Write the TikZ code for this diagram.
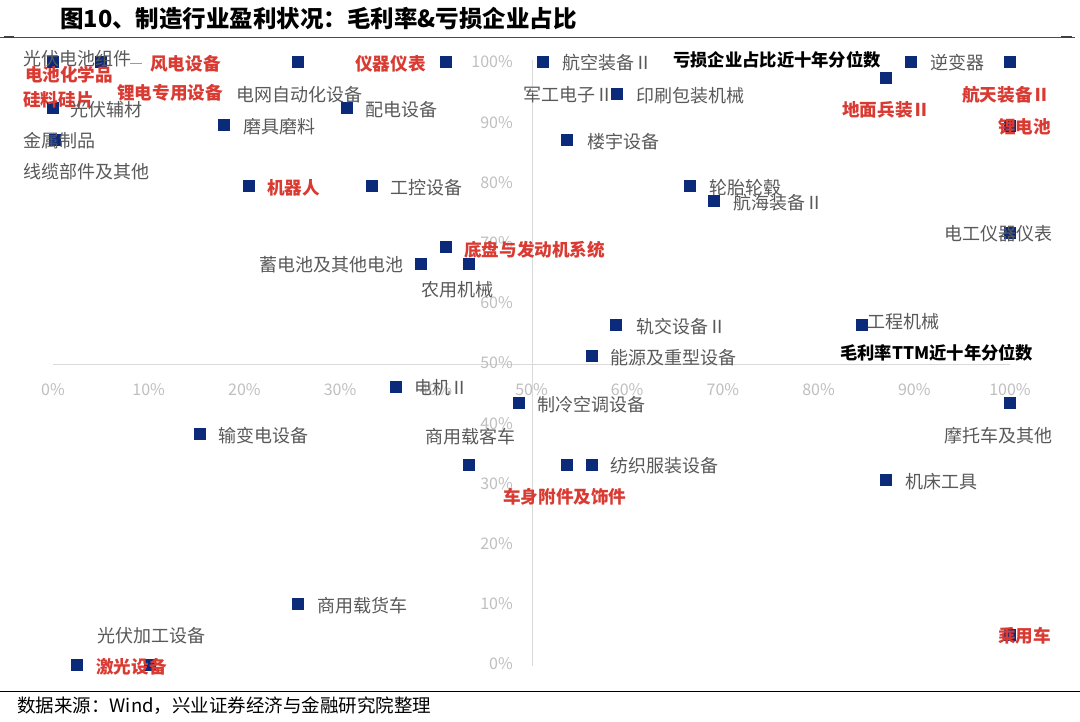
\documentclass[tikz,border=0pt]{standalone}
\usepackage{fontspec}
\setmainfont{Noto Sans CJK SC}
\definecolor{mk}{HTML}{0B2A7A}
\definecolor{rd}{HTML}{D93A32}
\definecolor{gt}{HTML}{595959}
\definecolor{ax}{HTML}{BFBFBF}
\definecolor{al}{HTML}{D9D9D9}
\begin{document}
\begin{tikzpicture}[x=1pt,y=-1pt,
  sq/.style={fill=mk,minimum size=12pt,inner sep=0pt,draw=none},
  gl/.style={anchor=west,inner sep=0pt,text=gt,font=\fontsize{18}{18}\selectfont},
  rl/.style={anchor=west,inner sep=0pt,text=rd,font=\fontsize{17.6}{18}\selectfont\bfseries},
  bl/.style={anchor=west,inner sep=0pt,text=black,font=\fontsize{17.3}{17}\selectfont\bfseries},
  yl/.style={anchor=east,inner sep=0pt,text=ax,font=\fontsize{16}{16}\selectfont},
  xl/.style={inner sep=0pt,text=ax,font=\fontsize{16}{16}\selectfont}]
\useasboundingbox (0,0) rectangle (1080,721);
\fill[white] (0,0) rectangle (1080,721);
% title
\node[anchor=west,inner sep=0pt,font=\fontsize{23.5}{24}\selectfont\bfseries] (title) at (60,19) {图10、制造行业盈利状况：毛利率\&亏损企业占比};
\coordinate (tl0) at (0,37); \coordinate (tl1) at (1075,37);
\draw[line width=1pt,black!70] (tl0) -- (tl1);
\draw[line width=2pt,black!75] (4,37) -- (14,37);
\draw[line width=2pt,black!75] (1061,37) -- (1072,37);
% axes
\coordinate (xa0) at (53,364); \coordinate (xa1) at (1010,364);
\coordinate (ya0) at (532,60); \coordinate (ya1) at (532,666);
\draw[al,line width=1pt] (xa0) -- (xa1);
\draw[al,line width=1pt] (ya0) -- (ya1);
\foreach \v [count=\i from 0] in {0,10,...,100} {
  \node[xl] (xt\i) at ({53+9.57*\v},390) {\v\%};
  \node[yl] (yt\i) at (513,{664-6.02*\v}) {\v\%};
}
% markers
\foreach \x/\y [count=\i] in {53/62,101/62,298/62,446/62,543/62,911/62,1010/62,886/78,
  53/108,347/108,224/125,55/140,249/186,372/186,617/94,1010/126,567/140,690/186,714/201,
  446/247,421/264,469/264,1010/233,616/325,862/325,592/356,396/387,519/403,1010/403,
  200/434,469/465,567/465,592/465,886/480,298/604,1010/635,77/665,150/665}
  \node[sq] (m\i) at (\x,\y) {};
% labels
\node[gl] (l1) at (23,59) {光伏电池组件};
\coordinate (ld0) at (130,63); \coordinate (ld1) at (142,63);
\draw[gt!60,line width=0.8pt] (ld0) -- (ld1);
\node[rl] (l2) at (150,64) {风电设备};
\node[rl] (l3) at (355,64) {仪器仪表};
\node[gl] (l4) at (562,63) {航空装备Ⅱ};
\node[bl] (l5) at (673,60) {亏损企业占比近十年分位数};
\node[gl] (l6) at (930,63) {逆变器};
\node[rl] (l7) at (25,75) {电池化学品};
\node[rl] (l8) at (23,100) {硅料硅片};
\node[rl] (l9) at (117,93) {锂电专用设备};
\node[gl] (l10) at (236,95) {电网自动化设备};
\node[gl] (l11) at (70,110) {光伏辅材};
\node[gl] (l12) at (365,110) {配电设备};
\node[gl] (l13) at (243,127) {磨具磨料};
\node[gl] (l14) at (23,141) {金属制品};
\node[gl] (l15) at (23,172) {线缆部件及其他};
\node[rl] (l16) at (267,188) {机器人};
\node[gl] (l17) at (390,188) {工控设备};
\node[gl] (l18) at (523,95) {军工电子Ⅱ};
\node[gl] (l19) at (636,96) {印刷包装机械};
\node[rl] (l20) at (962,95) {航天装备Ⅱ};
\node[rl] (l21) at (842,110) {地面兵装Ⅱ};
\node[rl] (l22) at (998,127) {锂电池};
\node[gl] (l23) at (587,142) {楼宇设备};
\node[gl] (l24) at (709,188) {轮胎轮毂};
\node[gl] (l25) at (733,203) {航海装备Ⅱ};
\node[gl] (l26) at (944,234) {电工仪器仪表};
\node[rl] (l27) at (464,250) {底盘与发动机系统};
\node[gl] (l28) at (259,265) {蓄电池及其他电池};
\node[gl] (l29) at (421,290) {农用机械};
\node[gl] (l30) at (636,327) {轨交设备Ⅱ};
\node[gl] (l31) at (867,322) {工程机械};
\node[gl] (l32) at (610,358) {能源及重型设备};
\node[bl] (l33) at (840,353) {毛利率TTM近十年分位数};
\node[gl] (l34) at (414,388) {电机Ⅱ};
\node[gl] (l35) at (537,405) {制冷空调设备};
\node[gl] (l36) at (944,436) {摩托车及其他};
\node[gl] (l37) at (218,436) {输变电设备};
\node[gl] (l38) at (425,437) {商用载客车};
\node[gl] (l39) at (610,466) {纺织服装设备};
\node[gl] (l40) at (905,482) {机床工具};
\node[rl] (l41) at (503,497) {车身附件及饰件};
\node[gl] (l42) at (317,606) {商用载货车};
\node[gl] (l43) at (97,636) {光伏加工设备};
\node[rl] (l44) at (998,636) {乘用车};
\node[rl] (l45) at (96,667) {激光设备};
% footer
\coordinate (bl0) at (0,691); \coordinate (bl1) at (1080,691);
\draw[line width=1pt,black] (bl0) -- (bl1);
\node[anchor=west,inner sep=0pt,font=\fontsize{18.5}{19}\selectfont] (src) at (17,706) {数据来源：Wind，兴业证券经济与金融研究院整理};
\end{tikzpicture}
\end{document}
